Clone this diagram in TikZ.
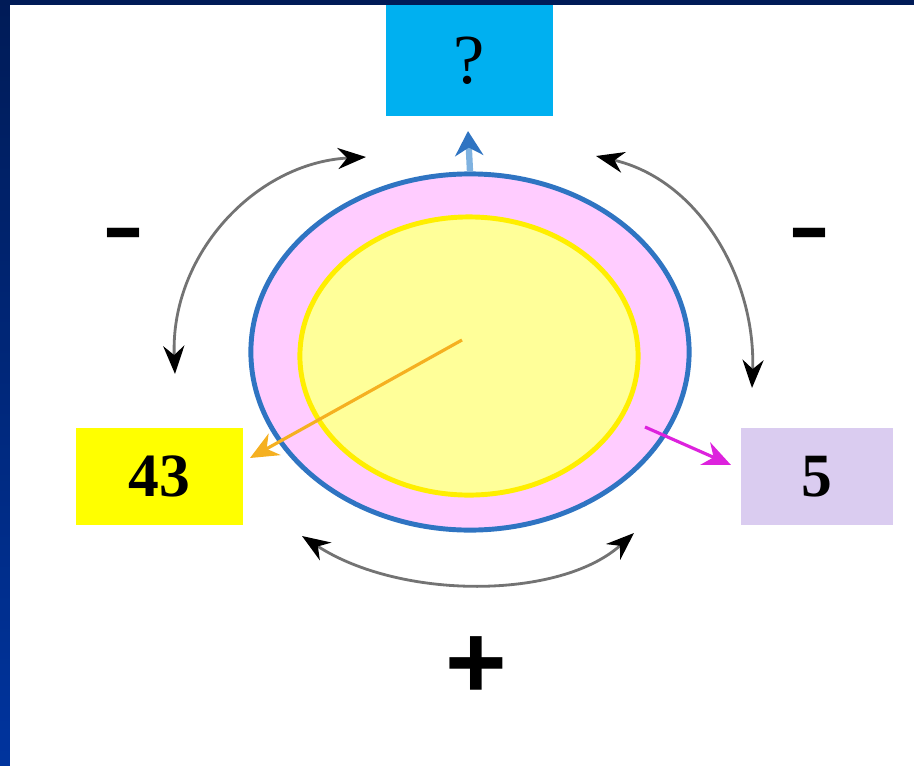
\documentclass[tikz,border=0pt]{standalone}
\usepackage{fontspec}
\setmainfont{Liberation Serif}
\newfontfamily\signfont{Liberation Sans}
\definecolor{framenavy}{HTML}{001B57}
\definecolor{frameblue}{HTML}{00349E}
\definecolor{askblue}{HTML}{00B0F0}
\definecolor{boxyellow}{HTML}{FFFF00}
\definecolor{lilac}{HTML}{DACCF0}
\definecolor{membrane}{HTML}{2F74C2}
\definecolor{pinkfill}{HTML}{FFCCFF}
\definecolor{corefill}{HTML}{FFFF99}
\definecolor{coreline}{HTML}{FFEE00}
\definecolor{orangearrow}{HTML}{F5B021}
\definecolor{magentaarrow}{HTML}{DD22DD}
\definecolor{upblue}{HTML}{7FB2E0}
\usetikzlibrary{arrows.meta,shapes.geometric}

\begin{document}
\begin{tikzpicture}[x=.01cm,y=-.01cm,
 valbox/.style={minimum height=.97cm,inner sep=0pt,font=\fontsize{17.5}{20}\selectfont\bfseries},
 pmsign/.style={font=\signfont\fontsize{30}{30}\selectfont\bfseries,inner sep=0pt},
 swing/.style={draw=black!55,line width=.8pt,{Stealth[black,length=8pt,width=6pt]}-{Stealth[black,length=8pt,width=6pt]}}]
\useasboundingbox (0,0) rectangle (914,766);
\fill[top color=framenavy,bottom color=frameblue] (0,0) rectangle (10,766);\fill[framenavy] (0,0) rectangle (914,5);
% cell and its core
\node[ellipse,draw=membrane,line width=1.4pt,fill=pinkfill,minimum width=4.38cm,minimum height=3.56cm] (cell) at (470,352) {};
\node[ellipse,draw=coreline,line width=1.4pt,fill=corefill,minimum width=3.38cm,minimum height=2.78cm] (core) at (469,356) {};
% value boxes
\node[valbox,fill=askblue,minimum width=1.67cm,minimum height=1.11cm,font=\fontsize{20}{24}\selectfont] (ask) at (469.5,60.5) {?};
\node[valbox,fill=boxyellow,minimum width=1.67cm] (big) at (159.5,476.5) {43};
\node[valbox,fill=lilac,minimum width=1.52cm] (small) at (817,476.5) {5};
% outgoing arrows
\coordinate (src) at (462,340);\coordinate (bigtip) at (250,458);\coordinate (uptip) at (468,131);
\coordinate (leak) at (645,427);\coordinate (smalltip) at (731,465);
\draw[orangearrow,line width=.9pt,-{Stealth[length=8pt,width=7pt]}] (src) -- (bigtip);
\draw[upblue,line width=1.8pt,-{Stealth[membrane,length=7pt,width=8pt]}] (cell.north) -- (uptip);
\draw[magentaarrow,line width=.9pt,-{Stealth[length=8pt,width=7pt]}] (leak) -- (smalltip);
% swings
\coordinate (tla) at (175,374);\coordinate (tlb) at (366,157);
\coordinate (tra) at (596,156);\coordinate (trb) at (752,388);
\coordinate (bla) at (302,536);\coordinate (blb) at (634,533);
\draw[swing] (tla) .. controls (170,255) and (255,163) .. (tlb);
\draw[swing] (tra) .. controls (700,180) and (756,280) .. (trb);
\draw[swing] (bla) .. controls (400,600) and (560,600) .. (blb);
\node[pmsign] (minusl) at (124,241) {\scalebox{1.2}[.75]{-}};\node[pmsign] (minusr) at (810,241) {\scalebox{1.2}[.75]{-}};
\node[pmsign] (plus) at (476,668) {+};
\end{tikzpicture}
\end{document}
